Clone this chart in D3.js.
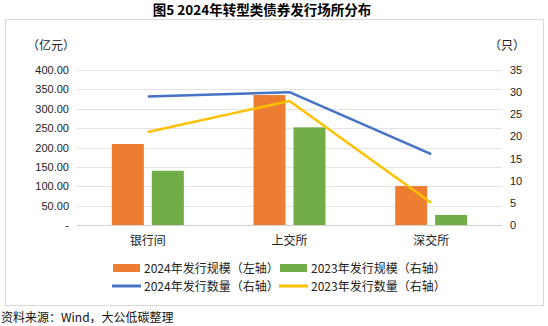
<!DOCTYPE html>
<html><head><meta charset="utf-8">
<script src="https://cdn.jsdelivr.net/npm/d3@7"></script>
<style>
body{margin:0;background:#fff;}
text{font-family:"Liberation Sans","Noto Sans CJK SC",sans-serif;}
.cjk{font-family:"Noto Sans CJK SC",sans-serif;}
</style></head><body>
<svg id="c" width="548" height="326"></svg>
<script>
const categories = ["银行间","上交所","深交所"];
const scale2024 = [209, 335.5, 100.6];
const scale2023 = [140, 252, 26];
const count2024 = [29, 30, 16];
const count2023 = [21, 28, 5];
const leftTicks = [0,50,100,150,200,250,300,350,400];
const rightTicks = [0,5,10,15,20,25,30,35];
const legendLabels = ["2024年发行规模（左轴）","2023年发行规模（右轴）","2024年发行数量（右轴）","2023年发行数量（右轴）"];
const colors = {o:"#ed7d31", g:"#70ad47", b:"#4472c4", y:"#ffc000"};

const svg = d3.select("#c");
// frame
svg.append("rect").attr("x",5.5).attr("y",19.5).attr("width",538).attr("height",286)
  .attr("fill","none").attr("stroke","#d9d9d9");
// title
svg.append("text").attr("class","cjk").attr("x",262).attr("y",15).attr("text-anchor","middle")
  .attr("font-size",13.5).attr("font-weight","bold").text("图5 2024年转型类债券发行场所分布");

const x0 = 77, x1 = 502;
const x = d3.scaleBand().domain(categories).range([x0,x1]);
const yL = d3.scaleLinear().domain([0,400]).range([225,70]);
const yR = d3.scaleLinear().domain([0,35]).range([225,70]);

// gridlines
svg.append("g").selectAll("line").data(leftTicks).join("line")
  .attr("x1",x0).attr("x2",x1).attr("y1",d=>Math.round(yL(d))+0.5).attr("y2",d=>Math.round(yL(d))+0.5)
  .attr("stroke",d=>d===0?"#d0d0d0":"#e3e3e3").attr("stroke-width",1);

// left axis labels
svg.append("g").selectAll("text").data(leftTicks).join("text")
  .attr("x",69).attr("y",d=>yL(d)+4).attr("text-anchor","end").attr("font-size",11).attr("fill","#222")
  .text(d=>d===0?"-":d3.format(".2f")(d));
// right axis labels
svg.append("g").selectAll("text").data(rightTicks).join("text")
  .attr("x",510).attr("y",d=>yR(d)+4).attr("text-anchor","start").attr("font-size",11).attr("fill","#222")
  .text(d=>d);

// unit labels
svg.append("text").attr("class","cjk").attr("x",27).attr("y",50).attr("font-size",12).attr("fill","#222").text("（亿元）");
svg.append("text").attr("class","cjk").attr("x",489).attr("y",50).attr("font-size",12).attr("fill","#222").text("（只）");

// bars
const bw = 32, gap = 8;
const cx = d => x(d)+x.bandwidth()/2;
svg.append("g").selectAll("rect").data(categories).join("rect")
  .attr("x",d=>cx(d)-gap/2-bw).attr("width",bw)
  .attr("y",(d,i)=>yL(scale2024[i])).attr("height",(d,i)=>yL(0)-yL(scale2024[i]))
  .attr("fill",colors.o);
svg.append("g").selectAll("rect").data(categories).join("rect")
  .attr("x",d=>cx(d)+gap/2).attr("width",bw)
  .attr("y",(d,i)=>yL(scale2023[i])).attr("height",(d,i)=>yL(0)-yL(scale2023[i]))
  .attr("fill",colors.g);

// lines
const line = d3.line().x(d=>d[0]).y(d=>d[1]);
svg.append("path").attr("d",line(categories.map((c,i)=>[cx(c),yR(count2024[i])])))
  .attr("fill","none").attr("stroke",colors.b).attr("stroke-width",2.5).attr("stroke-linejoin","round");
svg.append("path").attr("d",line(categories.map((c,i)=>[cx(c),yR(count2023[i])])))
  .attr("fill","none").attr("stroke",colors.y).attr("stroke-width",2.5).attr("stroke-linejoin","round");

// category labels
svg.append("g").selectAll("text").data(categories).join("text").attr("class","cjk")
  .attr("x",d=>cx(d)).attr("y",245).attr("text-anchor","middle").attr("font-size",12).attr("fill","#222").text(d=>d);

// legend
const lx = [113, 280], ly = [268, 286];
legendLabels.forEach((t,i)=>{
  const col = i%2, row = Math.floor(i/2);
  const c = [colors.o,colors.g,colors.b,colors.y][i];
  if(row===0){
    svg.append("rect").attr("x",lx[col]).attr("y",ly[row]-4).attr("width",27).attr("height",8).attr("fill",c);
  } else {
    svg.append("line").attr("x1",lx[col]-1).attr("x2",lx[col]+28).attr("y1",ly[row]).attr("y2",ly[row])
      .attr("stroke",c).attr("stroke-width",3);
  }
  svg.append("text").attr("class","cjk").attr("x",lx[col]+31).attr("y",ly[row]+4.5)
    .attr("font-size",12).attr("fill","#222").text(t);
});

// source
svg.append("text").attr("class","cjk").attr("x",1).attr("y",322).attr("font-size",12).attr("fill","#111")
  .text("资料来源：Wind，大公低碳整理");
</script>
</body></html>
